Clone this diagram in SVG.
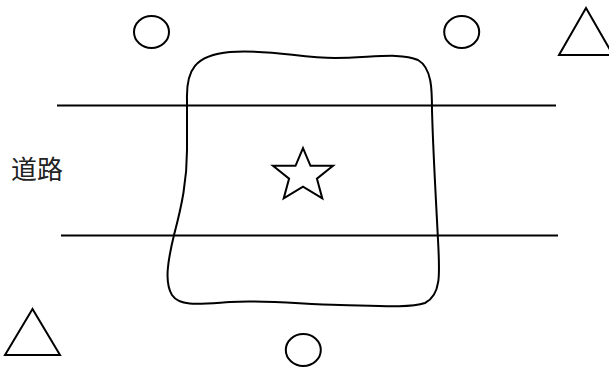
<svg xmlns="http://www.w3.org/2000/svg" width="609" height="370" viewBox="0 0 609 370">
<style>
.s{fill:none;stroke:#000;stroke-width:2}
.t{font-family:"Noto Sans CJK SC","Noto Sans CJK JP",sans-serif;font-size:26px;fill:#222}
</style>
<rect width="609" height="370" fill="#fff"/>
<g id="roads">
<line class="s" x1="57" y1="105.5" x2="556" y2="105.5"/>
<line class="s" x1="61" y1="235.5" x2="558" y2="235.5"/>
</g>
<path id="area" class="s" d="M187,100 C186,70 195,55 230,52 C270,49 300,58 335,58 C370,58 400,52 418,60 C432,68 432,90 432,110 C433,150 436,200 438,240 C440,275 441,295 425,303 C410,308 380,306 340,305 C300,304 265,300 230,302 C200,304 180,307 172,295 C164,282 168,260 174,235 C182,205 187,180 187,150 C187,130 187,115 187,100 Z"/>
<polygon id="star" class="s" points="303,148.1 310.5,165.8 333,165.8 316.9,178.6 322.3,198.4 303,186.6 283.7,198.4 289.1,178.6 273,165.8 295.5,165.8"/>
<ellipse id="c1" class="s" cx="151.5" cy="32" rx="17.5" ry="16"/>
<ellipse id="c2" class="s" cx="461.7" cy="32" rx="17.5" ry="16"/>
<ellipse id="c3" class="s" cx="303.3" cy="350" rx="17.5" ry="16"/>
<polygon id="t1" class="s" points="586,8 559,55 613,55"/>
<polygon id="t2" class="s" points="32.5,309 5,355 60,355"/>
<text id="label" class="t" x="11" y="179">道路</text>
</svg>
